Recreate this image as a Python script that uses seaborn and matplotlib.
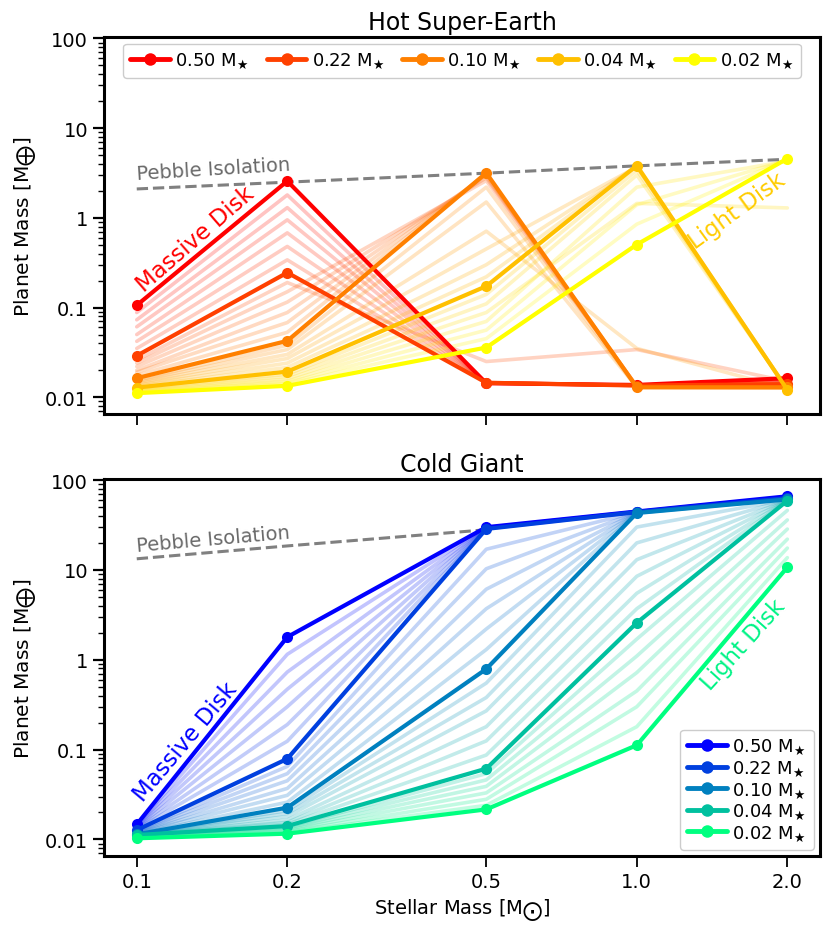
"""
Hot super-earth and cold giant planet masses vs stellar mass,
for a sweep of disk masses (two stacked log-log panels).
"""

import matplotlib
matplotlib.use("Agg")
import matplotlib.pyplot as plt
import pandas as pd
import seaborn as sns
from matplotlib.lines import Line2D
from matplotlib.ticker import NullLocator

# ---- data -------------------------------------------------------------
stellar_mass = [0.1, 0.2, 0.5, 1.0, 2.0]
x_tick_labels = ["0.1", "0.2", "0.5", "1.0", "2.0"]
y_ticks = [0.01, 0.1, 1, 10, 100]
y_tick_labels = ["0.01", "0.1", "1", "10", "100"]
disk_labels = ["0.50", "0.22", "0.10", "0.04", "0.02"]

# highlighted disk masses (rows: 0.50, 0.22, 0.10, 0.04, 0.02)
hot_main = [
    [0.106, 2.57, 0.0143, 0.0137, 0.0163],
    [0.029, 0.245, 0.0145, 0.0135, 0.0140],
    [0.0163, 0.0425, 3.17, 0.0129, 0.0129],
    [0.0128, 0.0193, 0.173, 3.83, 0.0121],
    [0.0111, 0.0134, 0.0358, 0.504, 4.58],
]
cold_main = [
    [0.0147, 1.79, 29.9, 44.7, 66.0],
    [0.0127, 0.079, 28.6, 44.0, 63.0],
    [0.0114, 0.0226, 0.79, 43.0, 61.0],
    [0.0112, 0.0141, 0.0614, 2.58, 59.0],
    [0.0103, 0.0116, 0.0216, 0.112, 10.7],
]

# faint in-between disk masses, one block per gap between highlighted ones
hot_gap_a = [
    [0.088, 1.80, 0.0144, 0.0136, 0.0158],
    [0.073, 1.30, 0.0144, 0.0136, 0.0155],
    [0.061, 0.95, 0.0145, 0.0136, 0.0152],
    [0.050, 0.68, 0.0145, 0.0135, 0.0148],
    [0.042, 0.48, 0.0145, 0.0135, 0.0145],
    [0.035, 0.34, 0.0146, 0.0135, 0.0142],
]
hot_gap_b = [
    [0.026, 0.19, 0.025, 0.034, 0.015],
    [0.024, 0.15, 2.60, 0.0133, 0.0135],
    [0.022, 0.115, 2.80, 0.0132, 0.0133],
    [0.020, 0.088, 2.95, 0.0131, 0.0131],
    [0.019, 0.068, 3.05, 0.0130, 0.0130],
    [0.0175, 0.053, 3.12, 0.0130, 0.0130],
]
hot_gap_c = [
    [0.0155, 0.038, 2.2, 0.0129, 0.0127],
    [0.0150, 0.034, 1.5, 0.0129, 0.0126],
    [0.0145, 0.030, 0.71, 0.035, 0.0124],
    [0.0140, 0.027, 0.45, 3.70, 0.0123],
    [0.0136, 0.024, 0.30, 3.75, 0.0122],
    [0.0132, 0.0215, 0.22, 3.80, 0.0122],
]
hot_gap_d = [
    [0.0125, 0.0180, 0.14, 3.40, 0.0122],
    [0.0122, 0.0170, 0.11, 3.00, 0.0125],
    [0.0119, 0.0160, 0.088, 1.45, 1.29],
    [0.0117, 0.0152, 0.070, 2.20, 4.30],
    [0.0115, 0.0145, 0.056, 1.40, 4.40],
    [0.0113, 0.0140, 0.045, 0.85, 4.50],
]
cold_gap_a = [
    [0.0144, 1.15, 29.7, 44.6, 65.5],
    [0.0141, 0.73, 29.5, 44.5, 65.0],
    [0.0138, 0.47, 29.3, 44.4, 64.5],
    [0.0135, 0.30, 29.1, 44.3, 64.0],
    [0.0132, 0.19, 28.9, 44.2, 63.6],
    [0.0130, 0.124, 28.7, 44.1, 63.3],
]
cold_gap_b = [
    [0.0124, 0.065, 17.0, 43.8, 62.7],
    [0.0122, 0.054, 10.3, 43.6, 62.4],
    [0.0120, 0.045, 6.1, 43.5, 62.1],
    [0.0118, 0.037, 3.7, 43.3, 61.8],
    [0.0117, 0.031, 2.2, 43.2, 61.5],
    [0.0115, 0.026, 1.3, 43.1, 61.2],
]
cold_gap_c = [
    [0.0113, 0.0210, 0.55, 30.0, 60.8],
    [0.0113, 0.0195, 0.38, 20.0, 60.5],
    [0.0113, 0.0180, 0.27, 13.0, 60.2],
    [0.0112, 0.0165, 0.18, 8.5, 59.9],
    [0.0112, 0.0155, 0.125, 5.5, 59.6],
    [0.0112, 0.0148, 0.087, 3.7, 59.3],
]
cold_gap_d = [
    [0.0110, 0.0138, 0.054, 1.70, 46.0],
    [0.0109, 0.0134, 0.046, 1.10, 36.0],
    [0.0108, 0.0130, 0.039, 0.72, 28.5],
    [0.0106, 0.0126, 0.033, 0.45, 22.0],
    [0.0105, 0.0122, 0.028, 0.30, 17.5],
    [0.0104, 0.0119, 0.024, 0.18, 13.7],
]

# pebble isolation mass
hot_pebble_x = [0.1, 0.2, 0.5, 1.0, 2.0]
hot_pebble = [2.1, 2.5, 3.15, 3.8, 4.5]
cold_pebble_x = [0.1, 0.2, 0.5]
cold_pebble = [13.3, 18.5, 28.0]


def to_long(rows):
    """Rows of planet masses -> long DataFrame with one id per line."""
    recs = []
    for i, row in enumerate(rows):
        for m, v in zip(stellar_mass, row):
            recs.append({"line": f"L{i}", "mstar": m, "mp": v})
    return pd.DataFrame(recs)


def draw_panel(ax, main_rows, gaps, peb_x, peb_y, cmap_name, title):
    cmap = plt.get_cmap(cmap_name)
    main_pos = [0.0, 0.25, 0.5, 0.75, 1.0]

    # faint sweep of disk masses
    for g, rows in enumerate(gaps):
        n = len(rows)
        cols = [cmap(main_pos[g] + 0.25 * (i + 1) / (n + 1)) for i in range(n)]
        sns.lineplot(data=to_long(rows), x="mstar", y="mp", hue="line",
                     palette=cols, lw=2.6, alpha=0.24, legend=False,
                     estimator=None, sort=False, ax=ax)

    ax.plot(peb_x, peb_y, ls="--", color="gray", lw=2.2, zorder=3)

    main_cols = [cmap(t) for t in main_pos]
    sns.lineplot(data=to_long(main_rows), x="mstar", y="mp", hue="line",
                 palette=main_cols, lw=3, marker="o", markersize=8,
                 markeredgewidth=0, legend=False, estimator=None,
                 sort=False, ax=ax, zorder=4)

    ax.set_xscale("log")
    ax.set_yscale("log")
    ax.set_xlim(0.086, 2.325)
    ax.set_ylim(0.0065, 103)
    ax.set_xticks(stellar_mass)
    ax.set_xticklabels(x_tick_labels)
    ax.xaxis.set_minor_locator(NullLocator())
    ax.set_yticks(y_ticks)
    ax.set_yticklabels(y_tick_labels)
    ax.set_title(title, fontsize=17)
    ax.set_ylabel(r"Planet Mass [M$_\bigoplus$]", fontsize=14.5)
    ax.set_xlabel("")

    handles = [Line2D([0], [0], color=c, lw=3.5, marker="o", ms=9, mew=0)
               for c in main_cols]
    labels = [rf"{d} M$_\bigstar$" for d in disk_labels]
    return handles, labels


sns.set_theme(style="ticks")
plt.rcParams.update({
    "font.family": ["DejaVu Sans"],
    "axes.edgecolor": "black",
    "axes.linewidth": 2.2,
    "text.color": "black",
    "axes.labelcolor": "black",
    "xtick.color": "black",
    "ytick.color": "black",
    "xtick.labelsize": 14,
    "ytick.labelsize": 14,
    "xtick.major.size": 8,
    "ytick.major.size": 8,
    "xtick.major.width": 1.3,
    "ytick.major.width": 1.6,
    "ytick.minor.size": 4,
    "ytick.minor.width": 1.0,
})

fig = plt.figure(figsize=(8.3, 9.37), dpi=100)
ax_top = fig.add_axes([0.1253, 0.5571, 0.8627, 0.4020])
ax_bot = fig.add_axes([0.1253, 0.0851, 0.8627, 0.4027])

h, l = draw_panel(ax_top, hot_main, [hot_gap_a, hot_gap_b, hot_gap_c, hot_gap_d],
                  hot_pebble_x, hot_pebble, "autumn", "Hot Super-Earth")
ax_top.set_xticklabels([])
ax_top.legend(h, l, loc="upper center", ncol=5, fontsize=13,
              handlelength=2.2, handletextpad=0.3, columnspacing=0.95,
              frameon=True, edgecolor="0.8", framealpha=1.0,
              borderaxespad=0.35)
ax_top.text(0.1, 2.74, "Pebble Isolation", color="dimgray", fontsize=14,
            rotation=3.5, rotation_mode="anchor", ha="left", va="baseline")
ax_top.text(0.131, 0.58, "Massive Disk", color=plt.get_cmap("autumn")(0.0),
            fontsize=16.5, rotation=41, rotation_mode="anchor",
            ha="center", va="center")
ax_top.text(1.586, 1.2, "Light Disk", color=plt.get_cmap("autumn")(0.8),
            fontsize=16.5, rotation=36, rotation_mode="anchor",
            ha="center", va="center")

h, l = draw_panel(ax_bot, cold_main, [cold_gap_a, cold_gap_b, cold_gap_c, cold_gap_d],
                  cold_pebble_x, cold_pebble, "winter", "Cold Giant")
ax_bot.legend(h, l, loc="lower right", ncol=1, fontsize=13,
              handlelength=2.2, handletextpad=0.3, labelspacing=0.12,
              frameon=True, edgecolor="0.8", framealpha=1.0,
              borderaxespad=0.35)
ax_bot.set_xlabel(r"Stellar Mass [M$_\bigodot$]", fontsize=14)
ax_bot.text(0.1, 16.4, "Pebble Isolation", color="dimgray", fontsize=14,
            rotation=5, rotation_mode="anchor", ha="left", va="baseline")
ax_bot.text(0.1254, 0.125, "Massive Disk", color=plt.get_cmap("winter")(0.0),
            fontsize=16.5, rotation=50, rotation_mode="anchor",
            ha="center", va="center")
ax_bot.text(1.637, 1.51, "Light Disk", color=plt.get_cmap("winter")(0.95),
            fontsize=16.5, rotation=48, rotation_mode="anchor",
            ha="center", va="center")

fig.savefig("out.png", dpi=100)
